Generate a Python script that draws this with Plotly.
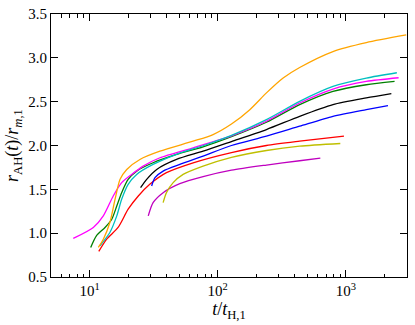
import plotly.graph_objects as go

# --- data (t / t_H,1  ,  r_AH / r_m,1) ---
t_orange = [11.7, 12.8, 14.4, 15.8, 17.3, 19.5, 24.7, 35.4, 64.3, 92, 128, 178, 240, 324, 436, 793, 1444, 2960]
r_orange = [0.837, 0.93, 1.122, 1.386, 1.614, 1.727, 1.841, 1.935, 2.049, 2.125, 2.245, 2.409, 2.60, 2.77, 2.89, 3.072, 3.174, 3.261]

t_cyan = [12.05, 14.4, 16.3, 17.8, 20, 23.3, 31.3, 47.7, 76.9, 128, 240, 436, 793, 1444, 2500]
r_cyan = [0.856, 1.008, 1.197, 1.386, 1.557, 1.67, 1.784, 1.90, 1.997, 2.115, 2.295, 2.504, 2.674, 2.769, 2.83]

t_magenta = [7.46, 10.7, 12.8, 15.3, 17.8, 21.3, 26.2, 35.4, 64.3, 128, 240, 436, 793, 1444, 2580]
r_magenta = [0.94, 1.065, 1.197, 1.424, 1.576, 1.67, 1.765, 1.86, 1.974, 2.11, 2.277, 2.485, 2.644, 2.731, 2.773]

t_green = [10.2, 11.3, 13.2, 14.9, 16.3, 17.8, 20.0, 23.3, 31.3, 47.7, 76.9, 128, 240, 436, 793, 1444, 2400]
r_green = [0.837, 0.97, 1.065, 1.159, 1.31, 1.462, 1.614, 1.708, 1.803, 1.898, 1.985, 2.10, 2.265, 2.466, 2.617, 2.693, 2.731]

t_black = [25, 27.9, 33.4, 47.7, 76.9, 128, 240, 436, 793, 1444, 2265]
r_black = [1.519, 1.614, 1.727, 1.841, 1.935, 2.045, 2.182, 2.333, 2.466, 2.542, 2.591]

t_blue = [30.5, 32.4, 37.5, 50.6, 76.9, 128, 240, 436, 793, 1444, 2130]
r_blue = [1.538, 1.633, 1.708, 1.784, 1.879, 2.0, 2.106, 2.22, 2.333, 2.409, 2.455]

t_red = [11.8, 13.6, 16.7, 20, 24, 29.5, 39.8, 64.3, 128, 240, 436, 966]
r_red = [0.792, 0.932, 1.065, 1.273, 1.424, 1.557, 1.69, 1.803, 1.92, 2.0, 2.049, 2.106]

t_yellow = [37.5, 39.8, 44.9, 53.7, 76.9, 128, 240, 436, 905]
r_yellow = [1.348, 1.462, 1.576, 1.67, 1.765, 1.865, 1.943, 1.992, 2.023]

t_purple = [28.7, 31.3, 37.5, 50.6, 76.9, 128, 240, 436, 632]
r_purple = [1.197, 1.348, 1.462, 1.565, 1.645, 1.718, 1.777, 1.826, 1.856]

y_ticks = [0.5, 1.0, 1.5, 2.0, 2.5, 3.0, 3.5]
x_ticks = [10, 100, 1000]
x_minor = [5, 6, 7, 8, 9, 20, 30, 40, 50, 60, 70, 80, 90,
           200, 300, 400, 500, 600, 700, 800, 900, 2000, 3000]

series = [
    (t_purple, r_purple, "#BF00BF"),
    (t_yellow, r_yellow, "#BFBF00"),
    (t_red, r_red, "#FF0000"),
    (t_blue, r_blue, "#0000FF"),
    (t_black, r_black, "#000000"),
    (t_green, r_green, "#008000"),
    (t_magenta, r_magenta, "#FF00FF"),
    (t_cyan, r_cyan, "#00BFBF"),
    (t_orange, r_orange, "#FFA500"),
]

fig = go.Figure()
for t, r, c in series:
    fig.add_trace(go.Scatter(x=t, y=r, mode="lines",
                             line=dict(color=c, width=1.3, shape="spline", smoothing=0.7),
                             showlegend=False, hoverinfo="skip"))

FONT = "Liberation Serif"
fig.update_layout(
    width=415, height=325,
    margin=dict(l=51, r=8, t=14, b=48),
    paper_bgcolor="white", plot_bgcolor="white",
    font=dict(family=FONT, size=15, color="black"),
    showlegend=False,
)
fig.update_xaxes(
    type="log", range=[0.69897, 3.4771], automargin=False,
    tickvals=x_ticks, ticktext=["10<sup>1</sup>", "10<sup>2</sup>", "10<sup>3</sup>"],
    ticks="inside", ticklen=7, tickwidth=1, tickcolor="black",
    minor=dict(ticks="inside", ticklen=3.5, tickwidth=1, tickcolor="black",
               tickvals=x_minor, showgrid=False),
    showline=True, linecolor="black", linewidth=1, mirror="ticks",
    showgrid=False, zeroline=False,
    title=dict(text="<i>t</i>/<i>t</i><sub>H,1</sub>", standoff=2),
)
fig.update_yaxes(
    range=[0.5, 3.5], tickvals=y_ticks, tickformat=".1f", automargin=False,
    ticks="inside", ticklen=7, tickwidth=1, tickcolor="black",
    showline=True, linecolor="black", linewidth=1, mirror="ticks",
    showgrid=False, zeroline=False,
    title=dict(text="<i>r</i><sub>AH</sub>(<i>t</i>)/<i>r</i><sub><i>m</i>,1</sub>", standoff=4),
)
# remove the browser's default 8px body margin so the figure fills the window
fig.write_html("out.html", config={"displayModeBar": False},
               post_script="document.body.style.margin='0';")
